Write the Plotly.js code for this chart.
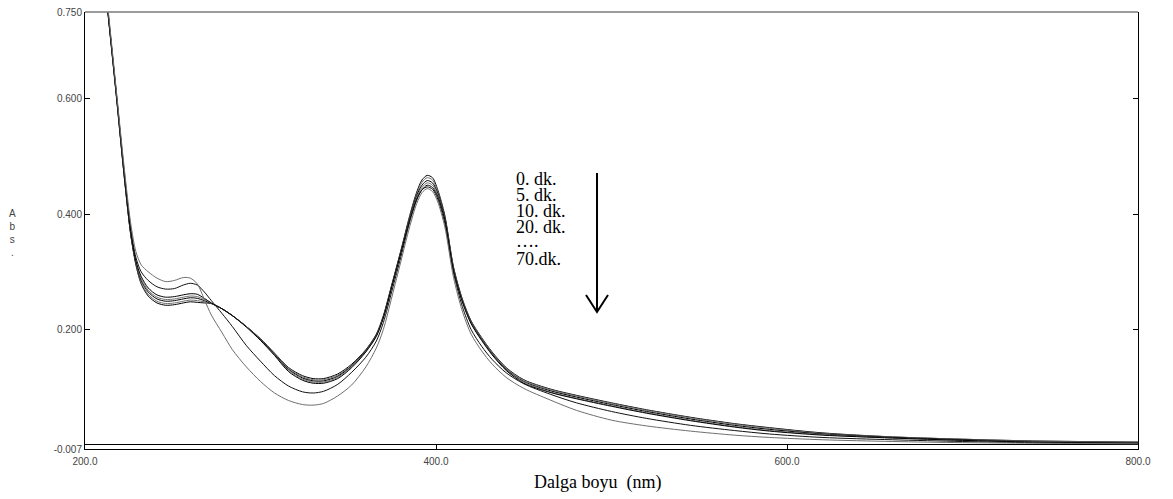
<!DOCTYPE html>
<html>
<head>
<meta charset="utf-8">
<script src="https://cdn.plot.ly/plotly-3.0.1.min.js"></script>
<style>html,body{margin:0;padding:0;background:#fff;}#chart{width:1173px;height:499px;}</style>
</head>
<body>
<div id="chart"></div>
<script>
// Wavelength grid (nm)
var wavelength = [206,210,214,218,222,226,229,232,236,241,246,251,256,260,264,268,272,278,284,292,300,308,316,324,330,336,344,352,360,366,370,375,380,385,389,392,395,398,401,405,410,415,420,426,432,440,450,465,480,500,520,545,570,590,620,660,700,740,800];

// Absorbance series
var abs_0dk  = [0.950,0.840,0.720,0.600,0.475,0.365,0.312,0.279,0.258,0.246,0.242,0.243,0.246,0.248,0.247,0.246,0.245,0.236,0.224,0.205,0.184,0.159,0.134,0.120,0.115,0.115,0.123,0.140,0.165,0.192,0.224,0.280,0.337,0.397,0.438,0.459,0.467,0.463,0.442,0.398,0.308,0.253,0.215,0.186,0.161,0.134,0.113,0.097,0.086,0.073,0.061,0.048,0.037,0.030,0.021,0.014,0.010,0.007,0.005];
var abs_5dk  = [0.950,0.840,0.720,0.600,0.476,0.366,0.313,0.281,0.261,0.249,0.245,0.246,0.249,0.251,0.250,0.248,0.245,0.236,0.224,0.205,0.183,0.158,0.133,0.118,0.113,0.113,0.121,0.138,0.164,0.191,0.223,0.279,0.336,0.395,0.435,0.455,0.463,0.459,0.439,0.396,0.307,0.252,0.214,0.185,0.160,0.133,0.112,0.096,0.085,0.072,0.060,0.047,0.036,0.029,0.020,0.014,0.010,0.007,0.005];
var abs_10dk = [0.952,0.842,0.722,0.602,0.477,0.367,0.315,0.285,0.265,0.253,0.249,0.250,0.253,0.255,0.254,0.250,0.245,0.236,0.224,0.205,0.183,0.157,0.131,0.116,0.111,0.111,0.119,0.137,0.163,0.190,0.222,0.278,0.335,0.393,0.432,0.450,0.458,0.454,0.436,0.394,0.305,0.250,0.212,0.183,0.158,0.131,0.110,0.094,0.083,0.070,0.058,0.045,0.034,0.027,0.019,0.013,0.009,0.006,0.004];
var abs_20dk = [0.952,0.842,0.722,0.603,0.478,0.368,0.317,0.288,0.268,0.256,0.252,0.253,0.256,0.258,0.257,0.252,0.245,0.236,0.224,0.205,0.182,0.156,0.129,0.114,0.109,0.109,0.117,0.136,0.162,0.189,0.221,0.277,0.334,0.391,0.429,0.446,0.454,0.450,0.433,0.392,0.304,0.249,0.211,0.182,0.157,0.130,0.109,0.092,0.081,0.068,0.056,0.043,0.032,0.025,0.018,0.012,0.008,0.006,0.004];
var abs_30dk = [0.953,0.843,0.723,0.604,0.480,0.370,0.319,0.292,0.272,0.260,0.256,0.257,0.260,0.262,0.261,0.254,0.246,0.236,0.224,0.204,0.181,0.155,0.127,0.112,0.107,0.107,0.115,0.134,0.161,0.188,0.220,0.276,0.333,0.389,0.426,0.442,0.450,0.446,0.430,0.390,0.302,0.248,0.210,0.181,0.156,0.129,0.107,0.091,0.080,0.067,0.055,0.042,0.031,0.024,0.017,0.012,0.008,0.005,0.003];
var abs_50dk = [0.955,0.845,0.725,0.606,0.484,0.377,0.325,0.300,0.285,0.274,0.270,0.271,0.277,0.280,0.277,0.265,0.250,0.228,0.205,0.172,0.145,0.120,0.102,0.092,0.090,0.093,0.105,0.126,0.152,0.180,0.212,0.268,0.326,0.386,0.424,0.442,0.447,0.443,0.426,0.384,0.298,0.240,0.200,0.171,0.148,0.125,0.106,0.088,0.073,0.058,0.046,0.034,0.025,0.019,0.013,0.009,0.006,0.004,0.003];
var abs_70dk = [0.960,0.850,0.730,0.610,0.490,0.385,0.335,0.312,0.300,0.289,0.283,0.285,0.290,0.289,0.279,0.252,0.225,0.195,0.165,0.135,0.110,0.090,0.077,0.070,0.069,0.072,0.085,0.104,0.135,0.168,0.200,0.258,0.318,0.378,0.418,0.437,0.444,0.439,0.421,0.378,0.290,0.232,0.192,0.163,0.140,0.117,0.098,0.078,0.060,0.043,0.033,0.024,0.017,0.013,0.009,0.006,0.004,0.003,0.002];

var seriesNames = ["0. dk.","5. dk.","10. dk.","20. dk.","30. dk.","50. dk.","70. dk."];
var seriesValues = [abs_0dk, abs_5dk, abs_10dk, abs_20dk, abs_30dk, abs_50dk, abs_70dk];
var seriesColors = ["#000000","#6e6e6e","#000000","#6e6e6e","#000000","#111111","#6e6e6e"];

var yTickVals = [-0.007, 0.2, 0.4, 0.6, 0.75];
var yTickText = ["-0.007","0.200","0.400","0.600","0.750"];
var xTickVals = [200, 400, 600, 800];
var xTickText = ["200.0","400.0","600.0","800.0"];

var legendLines = ["0. dk.","5. dk.","10. dk.","20. dk.","\u2026.","70.dk."];

var traces = seriesValues.map(function(v, i){
  return {
    x: wavelength, y: v, type: 'scatter', mode: 'lines', name: seriesNames[i],
    line: {color: seriesColors[i], width: 1, shape: 'spline', smoothing: 0.8},
    hoverinfo: 'skip', showlegend: false
  };
});

var tickFont = {family: 'Liberation Sans, Arial, sans-serif', size: 10, color: '#444'};
var serif = 'Liberation Serif, Times New Roman, serif';

var annotations = [
  {xref:'paper', yref:'paper', x:(597-85)/1053, y:(449-482)/437, text:'Dalga boyu\u00a0\u00a0(nm)', showarrow:false,
   xanchor:'center', yanchor:'middle', font:{family: serif, size: 18, color:'#000'}},
  {xref:'paper', yref:'paper', x:(12-85)/1053, y:(449-233)/437, text:'A<br>b<br>s<br>.', showarrow:false,
   xanchor:'center', yanchor:'middle', font:{family:'Liberation Sans, Arial, sans-serif', size: 10, color:'#444'}}
];
var legendY = [179, 195, 211, 227, 241, 259];
legendLines.forEach(function(t, i){
  annotations.push({xref:'paper', yref:'paper', x:(514-85)/1053, y:(449-legendY[i])/437, text:t,
    showarrow:false, xanchor:'left', yanchor:'middle', font:{family: serif, size: 18, color:'#000'}});
});

var shapes = [
  {type:'line', xref:'paper', yref:'paper', x0:0, x1:1, y0:1, y1:1, line:{color:'#7a7a7a', width:1.5}},
  {type:'line', xref:'paper', yref:'paper', x0:(597-85)/1053, x1:(597-85)/1053, y0:(449-173)/437, y1:(449-311)/437, line:{color:'#000', width:2}},
  {type:'path', xref:'paper', yref:'paper',
   path:'M '+((586-85)/1053)+' '+((449-295)/437)+' L '+((597-85)/1053)+' '+((449-312)/437)+' L '+((608-85)/1053)+' '+((449-295)/437),
   line:{color:'#000', width:2}}
];

var layout = {
  width: 1173, height: 499,
  margin: {l: 85, r: 35, t: 12, b: 50, pad: 0},
  paper_bgcolor: '#fff', plot_bgcolor: '#fff',
  showlegend: false,
  xaxis: {
    range: [200, 800], tickvals: xTickVals, ticktext: xTickText,
    ticks: 'inside', ticklen: 4, tickcolor: '#000', tickfont: tickFont, ticklabelstandoff: 3,
    showline: true, linecolor: '#000', linewidth: 1, showgrid: false, zeroline: false
  },
  yaxis: {
    range: [-0.007, 0.75], tickvals: yTickVals, ticktext: yTickText,
    ticks: 'inside', ticklen: 5, tickcolor: '#000', tickfont: tickFont,
    showline: true, linecolor: '#000', linewidth: 1, mirror: 'ticks',
    showgrid: false, zeroline: true, zerolinecolor: '#000', zerolinewidth: 1
  },
  annotations: annotations,
  shapes: shapes
};

Plotly.newPlot('chart', traces, layout, {displayModeBar: false, staticPlot: true});
</script>
</body>
</html>
